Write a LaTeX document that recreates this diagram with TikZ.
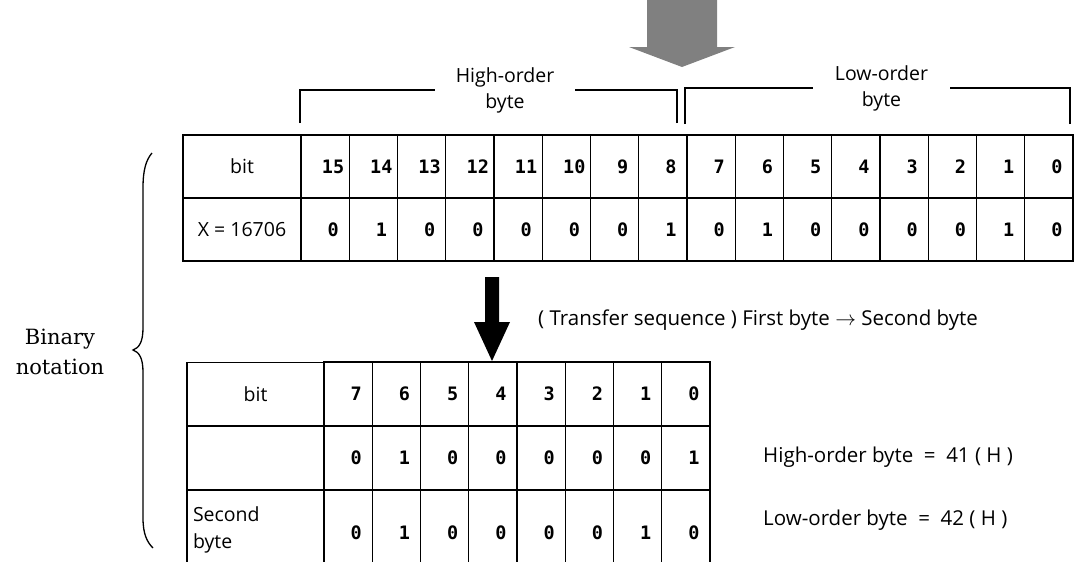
\documentclass[tikz,border=0pt]{standalone}
\usepackage{fontspec}
\setsansfont{Open Sans}
\newfontfamily\digitfont{DejaVu Sans Mono}
\newfontfamily\notefont{DejaVu Serif}
\usetikzlibrary{positioning,calc}
\tikzset{
    cell/.style={draw, line width=1.2pt, minimum width=48.25pt, minimum height=63pt, inner sep=0pt, outer sep=0pt},
    headcell/.style={cell, align=center, font=\sffamily\fontsize{19.5}{27}\selectfont},
    digit/.style={inner sep=0pt, font=\digitfont\bfseries\fontsize{18.5}{22}\selectfont},
    tag/.style={inner sep=0pt, align=center, font=\sffamily\fontsize{19.5}{26}\selectfont},
    note/.style={inner sep=0pt, anchor=west, font=\sffamily\fontsize{20.5}{24}\selectfont},
    bracket/.style={line width=1.2pt},
    brace/.style={line width=1.3pt},
    greyarrow/.style={fill=black!50},
    blackarrow/.style={fill=black},
}

\begin{document}
\begin{tikzpicture}[x=1pt, y=-1pt]
    \useasboundingbox (0,0) rectangle (1074,562);

    % byte brackets
    \node[tag, minimum width=140pt] (hiLbl) at (505,90) {High-order\\byte};
    \node[tag, minimum width=137pt] (loLbl) at (881.5,88) {Low-order\\byte};
    \coordinate (hiL) at (300,123);
    \coordinate (hiR) at (677,123);
    \coordinate (loL) at (685,124);
    \coordinate (loR) at (1070,124);
    \draw[bracket] (hiL) |- (hiLbl.west);
    \draw[bracket] (hiR) |- (hiLbl.east);
    \draw[bracket] (loL) |- (loLbl.west);
    \draw[bracket] (loR) |- (loLbl.east);

    % incoming arrow
    \fill[greyarrow] (647,0) -- (717,0) -- (717,47) -- (735,47) -- (682,67)
        -- (629,47) -- (647,47) -- cycle;

    % 16-bit table
    \node[headcell, minimum width=118pt] (bitA) at (242,166.5) {bit};
    \node[headcell, minimum width=118pt] (valA) at (242,229.5) {X = 16706};
    \foreach \b [count=\i] in {15,14,...,0}{
        \node[cell] (bA\i) at ({276.875+48.25*\i},166.5) {};
        \node[digit, xshift=8pt] at (bA\i) {\b};
    }
    \foreach \v [count=\i] in {0,1,0,0,0,0,0,1,0,1,0,0,0,0,1,0}{
        \node[cell] (vA\i) at ({276.875+48.25*\i},229.5) {};
        \node[digit, xshift=8pt] at (vA\i) {\v};
    }

    % transfer arrow
    \fill[blackarrow] (485,277) -- (499,277) -- (499,322) -- (510,322) -- (492,361)
        -- (474,322) -- (485,322) -- cycle;
    \node[note] (seq) at (538,320) {( Transfer sequence ) First byte $\rightarrow$ Second byte};

    % 8-bit table
    \node[headcell, minimum width=137pt] (bitB) at (255.5,394) {bit};
    \node[headcell, minimum width=137pt, minimum height=64pt] (firstB) at (255.5,458) {};
    \node[headcell, minimum width=137pt, minimum height=80pt, text width=125pt, align=left] (secB) at (255.5,530) {Second\\byte};
    \foreach \b [count=\i] in {7,6,...,0}{
        \node[cell, minimum height=64pt] (bB\i) at ({299.875+48.25*\i},394) {};
        \node[digit, xshift=8pt] at (bB\i) {\b};
    }
    \foreach \v [count=\i] in {0,1,0,0,0,0,0,1}{
        \node[cell, minimum height=64pt] (hB\i) at ({299.875+48.25*\i},458) {};
        \node[digit, xshift=8pt] at (hB\i) {\v};
    }
    \foreach \v [count=\i] in {0,1,0,0,0,0,1,0}{
        \node[cell, minimum height=80pt] (lB\i) at ({299.875+48.25*\i},530) {};
        \node[digit, xshift=8pt] at ([yshift=-3pt]lB\i) {\v};
    }
    \node[note] (hiVal) at (763,457) {High-order byte \ = \ 41 ( H )};
    \node[note] (loVal) at (763,520) {Low-order byte \ = \ 42 ( H )};

    % brace
    \draw[brace] (152,153) .. controls (146,160) and (143,170) .. (143,188)
        -- (143,328) .. controls (143,342) and (139,348) .. (133,350)
        .. controls (139,352) and (143,358) .. (143,372)
        -- (143,518) .. controls (143,534) and (147,542) .. (153,548);
    \node[align=center, font=\notefont\fontsize{21}{30}\selectfont] (binLbl) at (60,352) {Binary\\notation};
\end{tikzpicture}
\end{document}
